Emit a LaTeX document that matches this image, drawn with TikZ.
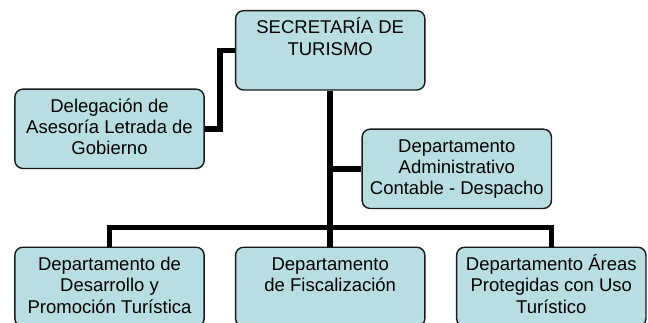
\documentclass[tikz,border=0pt]{standalone}
\usepackage{fontspec}
\setmainfont{Liberation Sans}
\definecolor{boxfill}{RGB}{185,222,226}
\definecolor{boxline}{RGB}{25,25,25}
\newcommand{\bxtext}[1]{\parbox[t][79.3pt][t]{189.3pt}{\centering\rule{0pt}{23.2pt}#1}}
\tikzset{
  orgbox/.style={draw=boxline, line width=1.4pt, fill=boxfill, rounded corners=8pt,
    inner sep=0pt, font=\fontsize{18.5pt}{21.3pt}\selectfont, text=black},
  link/.style={line width=5.5pt, black}
}
\begin{document}
\begin{tikzpicture}[x=1pt,y=1pt]
\useasboundingbox (0,0) rectangle (648,-322);
\fill[white] (0,0) rectangle (648,-322);
\clip (0,0) rectangle (648,-322);
\node[orgbox] (top) at (330.2,-50.3) {\bxtext{SECRETARÍA DE\\TURISMO}};
\node[orgbox] (del) at (109.5,-128.8) {\bxtext{Delegación de\\Asesoría Letrada de\\Gobierno}};
\node[orgbox] (adm) at (456.8,-168.8) {\bxtext{Departamento\\Administrativo\\Contable - Despacho}};
\node[orgbox] (b1) at (109.5,-286.9) {\bxtext{Departamento de\\Desarrollo y\\Promoción Turística}};
\node[orgbox] (b2) at (330.2,-286.9) {\bxtext{Departamento\\de Fiscalización}};
\node[orgbox] (b3) at (551.3,-286.9) {\bxtext{Departamento Áreas\\Protegidas con Uso\\Turístico}};
\coordinate (bar) at (330.2,-227.7);
\draw[link] (top.south) -- (b2.north);
\draw[link] (b1.north) |- (bar) -| (b3.north);
\draw[link] (top.south |- adm.west) -- (adm.west);
\draw[link] (del.east) -- ++(15,0) |- (top.west);
\end{tikzpicture}
\end{document}
